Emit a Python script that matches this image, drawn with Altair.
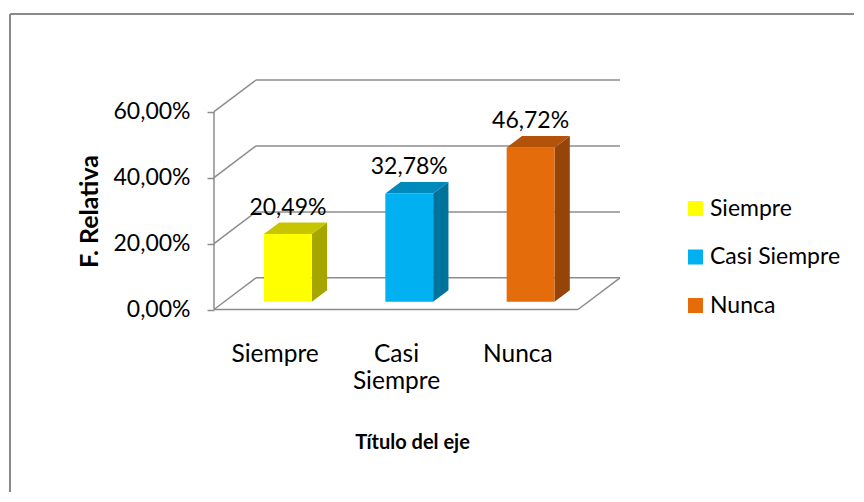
import json
import altair as alt
import pandas as pd

# ---------------- data ----------------
categories = ["Siempre", "Casi Siempre", "Nunca"]
values = [20.49, 32.78, 46.72]
front_colors = ["#FFFF00", "#00B0F0", "#E46C0A"]
top_colors = ["#C6C500", "#0089BB", "#B35309"]
side_colors = ["#A6A600", "#00739D", "#964409"]
y_ticks = [0, 20, 40, 60]
y_title = "F. Relativa"
x_title = "Título del eje"

# ---------------- style / 3-D geometry ----------------
FONT = "Lato"
FS = 23
GRID = "#8C8C8C"
DEPTH_X = 0.346   # depth of the floor, in category units
DEPTH_Y = 9.6     # depth of the floor, in percent units
BAR_LEFT = 0.412  # front-left of a bar inside its category band
BAR_W = 0.394
BAR_BASE = 0.247  # depth fraction where the bar's front face sits
BAR_DEPTH = 0.365 # depth fraction of the bar itself

n = len(categories)
X_MAX = n + DEPTH_X
Y_MAX = y_ticks[-1] + DEPTH_Y
W, H = 406, 229.5

xs = alt.Scale(domain=[0, X_MAX], nice=False, zero=False)
ys = alt.Scale(domain=[0, Y_MAX], nice=False, zero=False)

# wall / floor lines
lines = []
for t in y_ticks:
    lines.append(dict(x=DEPTH_X, x2=X_MAX, y=t + DEPTH_Y, y2=t + DEPTH_Y))  # back wall
    lines.append(dict(x=0, x2=DEPTH_X, y=t, y2=t + DEPTH_Y))               # side wall
lines.append(dict(x=0, x2=n, y=0, y2=0))                                   # floor front
lines.append(dict(x=n, x2=X_MAX, y=0, y2=DEPTH_Y))                         # floor right
lines.append(dict(x=0, x2=0, y=0, y2=y_ticks[-1]))                         # value axis line
lines_df = pd.DataFrame(lines)

bdx = BAR_DEPTH * DEPTH_X
bdy = BAR_DEPTH * DEPTH_Y
base = BAR_BASE * DEPTH_Y

bars, sides, tops = [], [], []
for i, (c, v) in enumerate(zip(categories, values)):
    x0 = i + BAR_LEFT
    x1 = x0 + BAR_W
    y1 = base + v
    bars.append(dict(cat=c, value=v, x0=x0, x1=x1, xc=(x0 + x1) / 2, y0=base, y1=y1, ylab=y1 + bdy))
    sides.append(dict(cat=c, col=side_colors[i], x=x1, lo=base, hi=y1))
    sides.append(dict(cat=c, col=side_colors[i], x=x1 + bdx, lo=base + bdy, hi=y1 + bdy))
    tops.append(dict(cat=c, col=top_colors[i], y=y1, xl=x0, xr=x1))
    tops.append(dict(cat=c, col=top_colors[i], y=y1 + bdy, xl=x0 + bdx, xr=x1 + bdx))
bars_df = pd.DataFrame(bars)
sides_df = pd.DataFrame(sides)
tops_df = pd.DataFrame(tops)

pct_expr = "replace(format(datum.value, '.2f'), '.', ',') + '%'"

x_axis = alt.Axis(
    values=[i + 0.5 for i in range(n)],
    labelExpr=f"split({json.dumps(categories)}[floor(datum.value)], ' ')",
    ticks=False, tickSize=0, domain=False, grid=False, labelFlush=False,
    labelPadding=33, labelFont=FONT, labelFontSize=24.5, labelColor="#000000",
    labelLineHeight=27, labelOverlap=False,
    title=x_title, titleFont=FONT, titleFontSize=20, titleFontWeight="bold",
    titleColor="#000000", titleX=198, titleY=138.5, titleAlign="center",
    titleBaseline="alphabetic", titleAnchor="start",
)
y_axis = alt.Axis(
    values=y_ticks, labelExpr=pct_expr, grid=False, domain=False,
    tickColor=GRID, tickSize=7, tickWidth=1.5, labelPadding=17, labelFlush=False,
    labelFont=FONT, labelFontSize=FS, labelColor="#000000",
    title=y_title, titleFont=FONT, titleFontSize=25, titleFontWeight="bold",
    titleColor="#000000", titleAngle=270, titleX=-117, titleY=131,
    titleAlign="center", titleBaseline="alphabetic", titleAnchor="start",
)


def X(field):
    return alt.X(field, scale=xs, axis=x_axis, title=x_title)


def Y(field):
    return alt.Y(field, scale=ys, axis=y_axis, title=y_title)


walls = alt.Chart(lines_df).mark_rule(color=GRID, strokeWidth=1.5).encode(
    x=X("x:Q"), x2="x2:Q", y=Y("y:Q"), y2="y2:Q",
)

side_faces = alt.Chart(sides_df).mark_area(orient="vertical", opacity=1).encode(
    x=X("x:Q"), y=Y("lo:Q"), y2="hi:Q",
    detail="cat:N",
    color=alt.Color("col:N", scale=None),
)

top_faces = alt.Chart(tops_df).mark_area(orient="horizontal", opacity=1).encode(
    y=Y("y:Q"), x=X("xl:Q"), x2="xr:Q",
    detail="cat:N",
    color=alt.Color("col:N", scale=None),
)

front_faces = alt.Chart(bars_df).mark_rect().encode(
    x=X("x0:Q"), x2="x1:Q", y=Y("y0:Q"), y2="y1:Q",
    color=alt.Color(
        "cat:N",
        sort=categories,
        scale=alt.Scale(domain=categories, range=front_colors),
        legend=alt.Legend(
            title=None, orient="none", legendX=470, legendY=117,
            symbolType="square", symbolSize=225, symbolStrokeWidth=0,
            labelFont=FONT, labelFontSize=FS, labelColor="#000000",
            rowPadding=24.5, labelOffset=3, padding=0,
        ),
    ),
)

labels = alt.Chart(bars_df).mark_text(
    font=FONT, fontSize=FS, color="#000000", baseline="alphabetic", align="center", dy=-8
).transform_calculate(
    txt="replace(format(datum.value, '.2f'), '.', ',') + '%'"
).encode(
    x=X("xc:Q"), y=Y("ylab:Q"), text="txt:N",
)

frame_df = pd.DataFrame([{"k": 0}])
frame_top = alt.Chart(frame_df).mark_rule(color="#8A8A8A", strokeWidth=2).encode(
    x=alt.value(-204), x2=alt.value(640), y=alt.value(-66)
)
frame_left = alt.Chart(frame_df).mark_rule(color="#8A8A8A", strokeWidth=2).encode(
    x=alt.value(-204), y=alt.value(-66), y2=alt.value(412)
)

chart = alt.layer(
    walls, side_faces, top_faces, front_faces, labels, frame_top, frame_left
).resolve_scale(color="independent").properties(
    width=W, height=H,
    background="#FFFFFF",
    padding={"left": 1, "top": 5, "right": 0, "bottom": 0},
).configure_view(strokeWidth=0, stroke="transparent")

chart.save("out.html", embed_options={"renderer": "svg", "actions": False})
